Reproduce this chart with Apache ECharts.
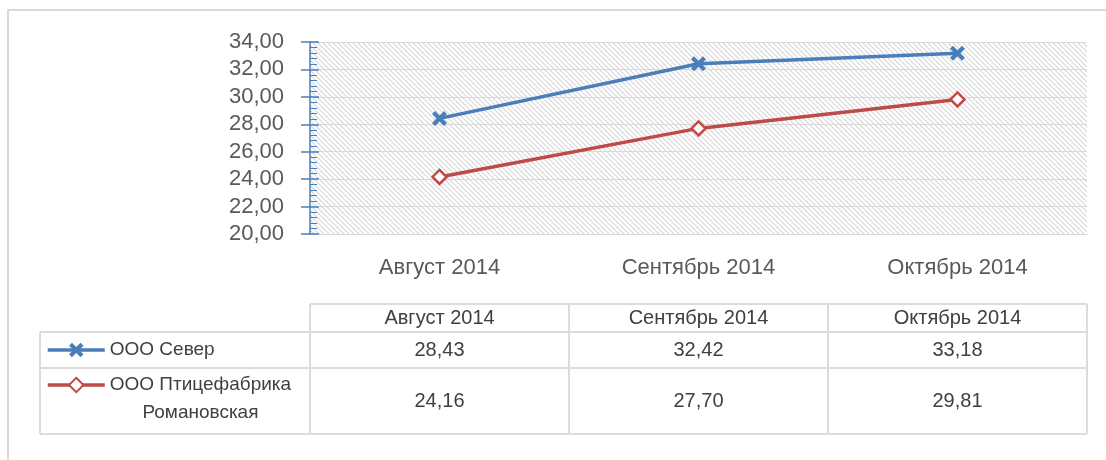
<!doctype html>
<html>
<head>
<meta charset="utf-8">
<title></title>
<style>html,body{margin:0;padding:0;background:#fff;}</style>
<script src="https://cdn.jsdelivr.net/npm/echarts@6/dist/echarts.min.js"></script>
</head>
<body>
<div id="main" style="width:1106px;height:460px;"></div>
<script>
// данные
var months = ['Август 2014', 'Сентябрь 2014', 'Октябрь 2014'];
var names = ['ООО Север', 'ООО Птицефабрика Романовская'];
var sever = [28.43, 32.42, 33.18];
var ptica = [24.16, 27.70, 29.81];
var yMin = 20, yMax = 34, yStep = 2;

var font = '"Liberation Sans", Arial, sans-serif';
var blue = '#4a7ebb', red = '#be4b48', gridGray = '#d9d9d9';

function fmt(v) {
	return v.toFixed(2).replace('.', ',');
}

// штриховка фона
function hatch() {
	var s = 5;
	var c = document.createElement('canvas');
	c.width = s; c.height = s;
	var g = c.getContext('2d');
	g.strokeStyle = '#d6d6d6';
	g.lineWidth = 1.1;
	g.beginPath();
	g.moveTo(-1, -1); g.lineTo(s + 1, s + 1);
	g.moveTo(-1, s - 1); g.lineTo(1, s + 1);
	g.moveTo(s - 1, -1); g.lineTo(s + 1, 1);
	g.stroke();
	return c;
}

var xMark = 'path://M0,2 L2,0 L5,3 L8,0 L10,2 L7,5 L10,8 L8,10 L5,7 L2,10 L0,8 L3,5 Z';

var chart = echarts.init(document.getElementById('main'));

var option = {
	animation: false,
	grid: {
		left: 310, right: 19, top: 42, bottom: 226,
		show: true,
		borderWidth: 0,
		backgroundColor: { image: hatch(), repeat: 'repeat' }
	},
	legend: [{
		data: [names[0]],
		left: 46, top: 336, padding: 0,
		itemWidth: 57, itemHeight: 18,
		lineStyle: { width: 3.5 },
		textStyle: { fontFamily: font, fontSize: 19, color: '#404040', lineHeight: 28 }
	}, {
		data: [names[1]],
		left: 46, top: 343, padding: 0,
		itemWidth: 57, itemHeight: 18,
		lineStyle: { width: 3.5 },
		formatter: function (n) {
			var p = n.split(' ');
			return '{a|' + p[0] + ' ' + p[1] + '}\n{b|' + p[2] + '}';
		},
		textStyle: {
			fontFamily: font, fontSize: 19, color: '#404040', lineHeight: 28,
			padding: [28, 0, 0, 0],
			rich: {
				a: { fontFamily: font, fontSize: 19, color: '#404040', lineHeight: 28 },
				b: { fontFamily: font, fontSize: 19, color: '#404040', lineHeight: 28, align: 'center' }
			}
		}
	}],
	xAxis: {
		type: 'category',
		data: months,
		axisLine: { lineStyle: { color: gridGray, width: 1 } },
		axisTick: { show: false },
		axisLabel: { fontFamily: font, fontSize: 22, color: '#595959', margin: 23 }
	},
	yAxis: [{
		type: 'value',
		min: yMin, max: yMax, interval: yStep,
		axisLine: { show: true, lineStyle: { color: blue, width: 1.5 } },
		axisTick: { show: true, length: 9, lineStyle: { color: blue, width: 1.5 } },
		axisLabel: { fontFamily: font, fontSize: 22, color: '#595959', margin: 26, formatter: fmt },
		splitLine: { lineStyle: { color: gridGray, width: 1 } }
	}, {
		// второй экземпляр оси: засечки внутрь + промежуточные
		type: 'value',
		position: 'right',
		offset: -777,
		min: yMin, max: yMax, interval: yStep,
		axisLine: { show: false },
		axisTick: { show: true, length: 9, lineStyle: { color: blue, width: 1.5 } },
		minorTick: { show: true, splitNumber: 5, length: 7, lineStyle: { color: blue, width: 1 } },
		axisLabel: { show: false },
		splitLine: { show: false }
	}],
	series: [{
		name: names[0],
		type: 'line',
		data: sever,
		symbol: xMark,
		symbolSize: 15,
		lineStyle: { color: blue, width: 3.5 },
		itemStyle: { color: blue }
	}, {
		name: names[1],
		type: 'line',
		data: ptica,
		symbol: 'diamond',
		symbolSize: 14,
		lineStyle: { color: red, width: 3.5 },
		itemStyle: { color: '#fff', borderColor: red, borderWidth: 2.5 }
	}]
};

chart.setOption(option);

// таблица данных под графиком
var cx = months.map(function (m) { return chart.convertToPixel({ xAxisIndex: 0 }, m); });
var half = (cx[1] - cx[0]) / 2;
var colL = 40, tblL = cx[0] - half, tblR = cx[cx.length - 1] + half;
var rowY = [304, 332, 368, 434];
var els = [];
var lc = '#dcdcdc';

function hline(x1, x2, y) {
	els.push({ type: 'line', shape: { x1: x1, y1: y, x2: x2, y2: y }, style: { stroke: lc, lineWidth: 2 }, silent: true });
}
function vline(x, y1, y2) {
	els.push({ type: 'line', shape: { x1: x, y1: y1, x2: x, y2: y2 }, style: { stroke: lc, lineWidth: 2 }, silent: true });
}
function txt(x, y, s) {
	els.push({ type: 'text', x: x, y: y, style: { text: s, fill: '#404040', font: '20px ' + font, textAlign: 'center', textVerticalAlign: 'middle' }, silent: true });
}

// рамка
els.push({ type: 'line', shape: { x1: 7, y1: 10, x2: 1106, y2: 10 }, style: { stroke: gridGray, lineWidth: 2 }, silent: true });
els.push({ type: 'line', shape: { x1: 8, y1: 10, x2: 8, y2: 460 }, style: { stroke: gridGray, lineWidth: 2 }, silent: true });

hline(tblL, tblR, rowY[0]);
hline(colL, tblR, rowY[1]);
hline(colL, tblR, rowY[2]);
hline(colL, tblR, rowY[3]);
vline(colL, rowY[1], rowY[3]);
vline(tblL, rowY[0], rowY[3]);
for (var i = 0; i < months.length; i++) {
	vline(cx[i] + half, rowY[0], rowY[3]);
	txt(cx[i], (rowY[0] + rowY[1]) / 2, months[i]);
	txt(cx[i], (rowY[1] + rowY[2]) / 2, fmt(sever[i]));
	txt(cx[i], (rowY[2] + rowY[3]) / 2, fmt(ptica[i]));
}

chart.setOption({ graphic: { elements: els } });
</script>
</body>
</html>
